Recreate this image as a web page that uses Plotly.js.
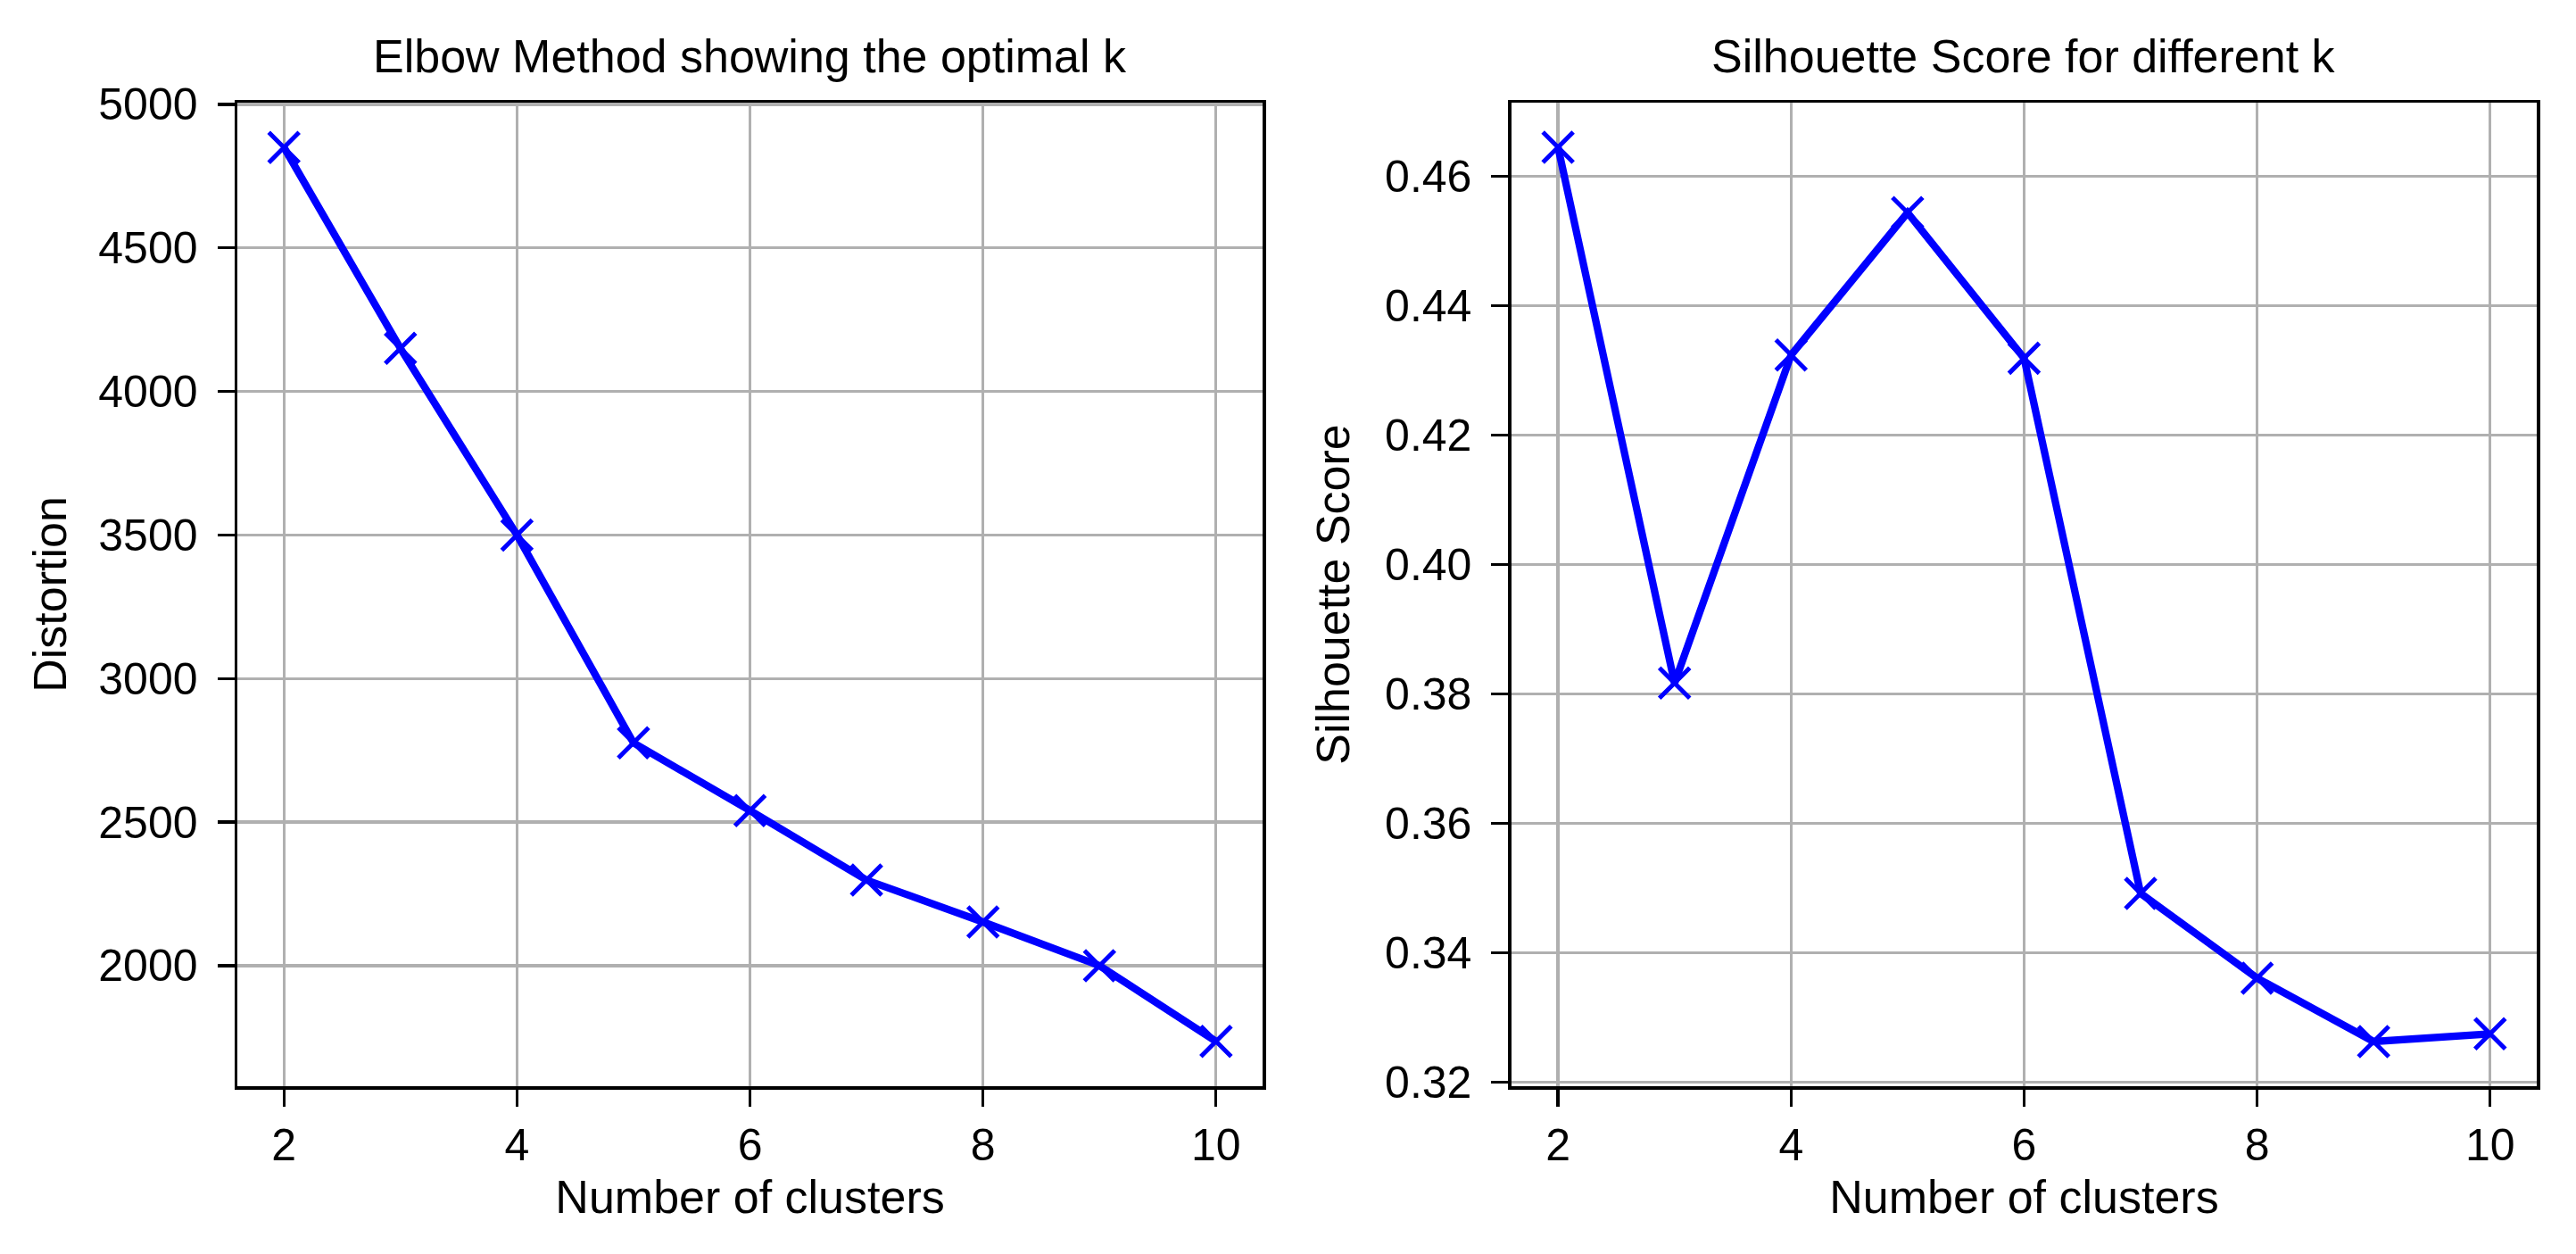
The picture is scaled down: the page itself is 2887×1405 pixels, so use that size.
<!DOCTYPE html>
<html>
<head>
<meta charset="utf-8">
<script src="https://cdn.plot.ly/plotly-3.0.1.min.js"></script>
<style>
  html, body { margin: 0; padding: 0; background: #fff; }
  #chart { width: 2887px; height: 1405px; }
</style>
</head>
<body>
<div id="chart"></div>
<script>
// ---- data ----
const clusters = [2, 3, 4, 5, 6, 7, 8, 9, 10];
const distortion = [4850, 4150, 3500, 2776, 2540, 2298, 2152, 2000, 1736];
const silhouette = [0.4645, 0.3817, 0.4324, 0.4544, 0.4319, 0.3492, 0.3361, 0.3263, 0.3275];
const titles = ["Elbow Method showing the optimal k", "Silhouette Score for different k"];
const xLabel = "Number of clusters";
const yLabels = ["Distortion", "Silhouette Score"];

const FONT = "Liberation Sans, Arial, Helvetica, sans-serif";
const FS = 50;
const FS_LABEL = 52;
const blue = "#0000ff";

function trace(y, xa, ya) {
  return {
    x: clusters, y: y, xaxis: xa, yaxis: ya,
    type: "scatter", mode: "lines+markers",
    line: { color: blue, width: 8.3 },
    marker: { symbol: "x-thin", size: 34, color: blue, line: { color: blue, width: 5 } },
    showlegend: false, hoverinfo: "x+y"
  };
}

function xaxis(domain, anchor) {
  return {
    domain: domain, anchor: anchor, range: [1.6, 10.4],
    tickmode: "linear", tick0: 0, dtick: 2,
    showgrid: true, gridcolor: "#b0b0b0", gridwidth: 3.3,
    zeroline: false, showline: true, linecolor: "#000", linewidth: 3.5, mirror: true,
    ticks: "outside", ticklen: 19, tickwidth: 3.3, tickcolor: "#000",
    tickfont: { family: FONT, size: FS, color: "#000" },
    title: { text: xLabel, font: { family: FONT, size: FS_LABEL, color: "#000" }, standoff: 14 },
    automargin: false
  };
}

function yaxis(anchor, range, dtick, fmt, label, standoff) {
  return {
    domain: [0, 1], anchor: anchor, range: range,
    tickmode: "linear", tick0: 0, dtick: dtick, tickformat: fmt,
    showgrid: true, gridcolor: "#b0b0b0", gridwidth: 3.3,
    zeroline: false, showline: true, linecolor: "#000", linewidth: 3.5, mirror: true,
    ticks: "outside", ticklen: 19, tickwidth: 3.3, tickcolor: "#000",
    ticklabelstandoff: 12,
    tickfont: { family: FONT, size: FS, color: "#000" },
    title: { text: label, font: { family: FONT, size: FS_LABEL, color: "#000" }, standoff: standoff },
    automargin: false
  };
}

const data = [
  trace(distortion, "x", "y"),
  trace(silhouette, "x2", "y2")
];

const layout = {
  width: 2887, height: 1405,
  margin: { l: 266, r: 44, t: 115, b: 188 },
  paper_bgcolor: "#fff", plot_bgcolor: "#fff",
  font: { family: FONT, size: FS, color: "#000" },
  xaxis: xaxis([0, 0.4459], "y"),
  yaxis: yaxis("x", [1580, 5006], 500, "d", yLabels[0], 20),
  xaxis2: xaxis([0.5541, 1], "y2"),
  yaxis2: yaxis("x2", [0.3194, 0.4714], 0.02, ".2f", yLabels[1], 24),
  annotations: [
    { text: titles[0], xref: "x domain", yref: "paper", x: 0.5, y: 1, xanchor: "center", yanchor: "middle",
      yshift: 52, showarrow: false, font: { family: FONT, size: FS_LABEL, color: "#000" } },
    { text: titles[1], xref: "x2 domain", yref: "paper", x: 0.5, y: 1, xanchor: "center", yanchor: "middle",
      yshift: 52, showarrow: false, font: { family: FONT, size: FS_LABEL, color: "#000" } }
  ]
};

Plotly.newPlot("chart", data, layout, { displayModeBar: false, staticPlot: true });
</script>
</body>
</html>
